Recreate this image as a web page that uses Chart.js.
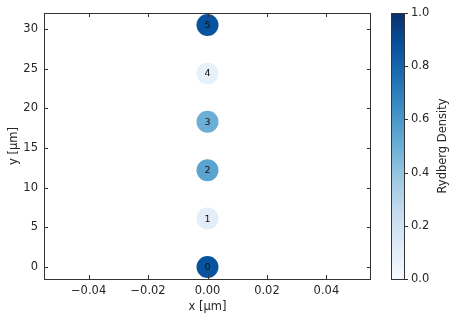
<!DOCTYPE html>
<html>
<head>
<meta charset="utf-8">
<script src="https://cdn.jsdelivr.net/npm/chart.js@4.4.1/dist/chart.umd.min.js"></script>
<style>
  html, body { margin: 0; padding: 0; background: #fff; }
  #wrap { width: 458px; height: 322px; position: relative; }
</style>
</head>
<body>
<div id="wrap"><canvas id="c"></canvas></div>
<script>
// --- DATA ---
const siteLabels = ['0', '1', '2', '3', '4', '5'];
const siteX = [0, 0, 0, 0, 0, 0];
const siteY = [0, 6.1, 12.2, 18.3, 24.4, 30.5];
const rydbergDensity = [0.87, 0.10, 0.55, 0.50, 0.08, 0.87];
const xTickVals = [-0.04, -0.02, 0, 0.02, 0.04];
const yTickVals = [0, 5, 10, 15, 20, 25, 30];
const cbTickVals = [0, 0.2, 0.4, 0.6, 0.8, 1.0];

// matplotlib "Blues"
const BLUES = ['#f7fbff', '#deebf7', '#c6dbef', '#9ecae1', '#6baed6', '#4292c6', '#2171b5', '#08519c', '#08306b'];
const hex = h => [1, 3, 5].map(i => parseInt(h.substr(i, 2), 16));
function blues(t) {
    t = Math.max(0, Math.min(1, t));
    const p = t * (BLUES.length - 1), i = Math.min(Math.floor(p), BLUES.length - 2), f = p - i;
    const a = hex(BLUES[i]), b = hex(BLUES[i + 1]);
    return 'rgb(' + a.map((v, k) => Math.round(v + (b[k] - v) * f)).join(',') + ')';
}

const FONT = "'DejaVu Sans', sans-serif";
const FS = 11.5;
const TXT = '#262626';
const fmtX = v => (v < 0 ? '\u2212' : '') + Math.abs(v).toFixed(2);

// frame, inward ticks, site labels, colorbar
const decor = {
    id: 'decor',
    afterDraw(chart) {
        const ctx = chart.ctx, a = chart.chartArea, sx = chart.scales.x, sy = chart.scales.y;
        ctx.save();
        ctx.strokeStyle = '#333';
        ctx.lineWidth = 1;
        ctx.strokeRect(a.left + 0.5, a.top + 0.5, a.right - a.left - 1, a.bottom - a.top);
        ctx.beginPath();
        xTickVals.forEach(v => {
            const px = Math.round(sx.getPixelForValue(v)) + 0.5;
            ctx.moveTo(px, a.bottom); ctx.lineTo(px, a.bottom - 4);
            ctx.moveTo(px, a.top); ctx.lineTo(px, a.top + 4);
        });
        yTickVals.forEach(v => {
            const py = Math.round(sy.getPixelForValue(v)) + 0.5;
            ctx.moveTo(a.left, py); ctx.lineTo(a.left + 4, py);
            ctx.moveTo(a.right, py); ctx.lineTo(a.right - 4, py);
        });
        ctx.stroke();

        // numbers inside the circles
        const meta = chart.getDatasetMeta(0);
        ctx.fillStyle = '#111';
        ctx.font = '9.5px ' + FONT;
        ctx.textAlign = 'center';
        ctx.textBaseline = 'middle';
        meta.data.forEach((pt, i) => ctx.fillText(siteLabels[i], pt.x, pt.y + 0.5));

        // colorbar
        const cbL = 391, cbR = 404, cbT = a.top, cbB = a.bottom;
        const g = ctx.createLinearGradient(0, cbB, 0, cbT);
        for (let k = 0; k <= 40; k++) g.addColorStop(k / 40, blues(k / 40));
        ctx.fillStyle = g;
        ctx.fillRect(cbL, cbT, cbR - cbL, cbB - cbT);
        ctx.strokeStyle = '#333';
        ctx.strokeRect(cbL + 0.5, cbT + 0.5, cbR - cbL, cbB - cbT);
        ctx.fillStyle = TXT;
        ctx.font = FS + 'px ' + FONT;
        ctx.textAlign = 'left';
        ctx.beginPath();
        cbTickVals.forEach(v => {
            const py = Math.round(cbB - (cbB - cbT) * v) + 0.5;
            ctx.moveTo(cbR, py); ctx.lineTo(cbR + 4, py);
            ctx.fillText(v.toFixed(1), cbR + 7, py);
        });
        ctx.stroke();
        ctx.translate(443, (cbT + cbB) / 2);
        ctx.rotate(-Math.PI / 2);
        ctx.textAlign = 'center';
        ctx.fillText('Rydberg Density', 0, 0);
        ctx.restore();
    }
};

new Chart(document.getElementById('c'), {
    type: 'scatter',
    data: {
        datasets: [{
            data: siteX.map((x, i) => ({ x, y: siteY[i] })),
            backgroundColor: rydbergDensity.map(blues),
            borderWidth: 0,
            pointRadius: 11,
            pointHoverRadius: 11,
            clip: false
        }]
    },
    options: {
        responsive: true,
        maintainAspectRatio: false,
        animation: false,
        events: [],
        layout: { padding: { top: 13, right: 87, left: 0, bottom: 0 } },
        plugins: { legend: { display: false }, tooltip: { enabled: false } },
        scales: {
            x: {
                min: -0.055, max: 0.055,
                afterBuildTicks: s => { s.ticks = xTickVals.map(v => ({ value: v })); },
                afterFit: s => { s.height = 43; },
                grid: { display: false, drawTicks: false },
                border: { display: false },
                ticks: { color: TXT, font: { family: FONT, size: FS }, padding: 5, maxRotation: 0, callback: v => fmtX(v) },
                title: { display: true, text: 'x [µm]', color: TXT, font: { family: FONT, size: FS }, padding: { top: 0, bottom: 8 } }
            },
            y: {
                min: -1.525, max: 32.025,
                afterBuildTicks: s => { s.ticks = yTickVals.map(v => ({ value: v })); },
                afterFit: s => { s.width = 44; },
                grid: { display: false, drawTicks: false },
                border: { display: false },
                ticks: { color: TXT, font: { family: FONT, size: FS }, padding: 6, callback: v => String(v) },
                title: { display: true, text: 'y [µm]', color: TXT, font: { family: FONT, size: FS }, padding: { top: 7, bottom: 0 } }
            }
        }
    },
    plugins: [decor]
});
</script>
</body>
</html>
